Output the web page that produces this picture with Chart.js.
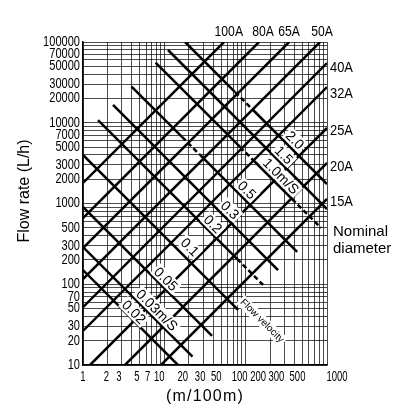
<!DOCTYPE html>
<html>
<head>
<meta charset="utf-8">
<script src="https://cdn.jsdelivr.net/npm/chart.js@4/dist/chart.umd.min.js"></script>
<style>
  body { margin: 0; background: #fff; }
  #wrap { width: 400px; height: 412px; }
</style>
</head>
<body>
<div id="wrap"><canvas id="myChart" width="400" height="412"></canvas></div>
<script>
// Ejes
const xTicks = [1, 2, 3, 5, 7, 10, 20, 30, 50, 100, 200, 300, 500, 1000];
const yTicks = [10, 20, 30, 50, 70, 100, 200, 300, 500, 1000, 2000, 3000, 5000, 7000,
    10000, 20000, 30000, 50000, 70000, 100000];

// Diametro nominal: punto inicial y final [m/100m, L/h]
const diametros = ["100A", "80A", "65A", "50A", "40A", "32A", "25A", "20A", "15A"];
const diamInicio = [[1, 1795], [1, 661], [1, 281], [1, 116], [1, 52], [1, 26.4],
    [1.22, 10], [3.28, 10], [9.1, 10]];
const diamFin = [[54.2, 100000], [146, 100000], [342, 100000], [822, 100000],
    [1000, 54900], [1000, 27700], [1000, 8610], [1000, 3180], [1000, 1137]];

// Velocidad: puntos de cada linea [m/100m, L/h] y tramos punteados
const velocidades = ["2.0", "1.5", "1.0m/S", "0.5", "0.3", "0.2", "0.1", "0.05", "0.03m/S", "0.02"];
const velPuntos = [
    [[18.0, 100000], [74.1, 24000], [120, 14800], [1000, 1744]],
    [[11.1, 79600], [1000, 855]],
    [[7.8, 55700], [85.3, 5010], [127, 3360], [372, 1137], [846, 498]],
    [[3.95, 28100], [16.5, 6670], [27.5, 3990], [429, 251]],
    [[2.34, 16600], [250, 150]],
    [[1.53, 10800], [78.4, 206], [164, 98]],
    [[1, 3990], [80.7, 48]],
    [[1, 905], [38.6, 22.9]],
    [[1, 289], [22.2, 12.7]],
    [[1, 150], [14.7, 10]],
];
const velPunteado = [[1], [], [1, 3], [1], [], [1], [], [], [], []];
const velEtiqueta = [[405, 6110], [297, 3990], [272, 2190], [104, 1470], [64.3, 832],
    [39.7, 557], [20.7, 289], [10.5, 116], [8.13, 48], [4.24, 45.3]];

// Etiquetas de diametro
const diamArriba = ["100A", "80A", "65A", "50A"];
const diamArribaX = [62, 164, 342, 870];
const diamDerecha = ["40A", "32A", "25A", "20A", "15A"];
const diamDerechaY = [47600, 22700, 7900, 2830, 1045];

// corrimiento de las etiquetas del eje x (px)
const xTickShift = [0, -1, -3, -3, -4, -5, -6, -3, -5, -6, -12, -8, -5, 10];

const fuente = "'Liberation Sans', Arial, sans-serif";

// lineas de la grilla: 1..9 por decada
function grilla(min, max) {
    const valores = [];
    for (let d = min; d < max; d *= 10) {
        for (let k = 1; k <= 9; k++) valores.push(k * d);
    }
    valores.push(max);
    return valores;
}

// texto angosto
function textoAngosto(ctx, txt, px, py, escala) {
    ctx.save();
    ctx.translate(px, py);
    ctx.scale(escala, 1);
    ctx.fillText(txt, 0, 0);
    ctx.restore();
}

const datasets = [];
diametros.forEach((nombre, i) => {
    datasets.push({
        label: nombre,
        data: [
            { x: diamInicio[i][0], y: diamInicio[i][1] },
            { x: diamFin[i][0], y: diamFin[i][1] },
        ],
        borderColor: "#000",
        borderWidth: 2.5,
    });
});
velocidades.forEach((nombre, i) => {
    datasets.push({
        label: nombre,
        data: velPuntos[i].map((p) => ({ x: p[0], y: p[1] })),
        borderColor: "#000",
        borderWidth: 2.5,
        segment: {
            borderDash: (c) => (velPunteado[i].includes(c.p0DataIndex) ? [5, 3] : undefined),
        },
    });
});

// Textos
const textosPlugin = {
    id: "textos",
    afterDatasetsDraw(chart) {
        const { ctx, chartArea } = chart;
        const x = chart.scales.x;
        const y = chart.scales.y;
        ctx.save();
        ctx.fillStyle = "#000";

        // etiquetas de los ejes
        ctx.font = "14px " + fuente;
        ctx.textAlign = "center";
        ctx.textBaseline = "middle";
        xTicks.forEach((v, i) => {
            textoAngosto(ctx, String(v), x.getPixelForValue(v) + xTickShift[i], chartArea.bottom + 12, 0.68);
        });
        ctx.textAlign = "right";
        yTicks.forEach((v) => {
            textoAngosto(ctx, String(v), chartArea.left - 3, y.getPixelForValue(v), 0.79);
        });

        // etiquetas de velocidad
        velocidades.forEach((txt, i) => {
            const px = x.getPixelForValue(velEtiqueta[i][0]);
            const py = y.getPixelForValue(velEtiqueta[i][1]);
            ctx.save();
            ctx.translate(px, py);
            ctx.rotate(Math.PI / 4);
            ctx.font = "14px " + fuente;
            const w = ctx.measureText(txt).width;
            ctx.fillStyle = "#fff";
            ctx.fillRect(-w / 2 - 2, -7, w + 4, 14);
            ctx.fillStyle = "#000";
            ctx.textAlign = "center";
            ctx.textBaseline = "middle";
            ctx.fillText(txt, 0, 1);
            ctx.restore();
        });

        // Flow velocity
        ctx.save();
        ctx.translate(x.getPixelForValue(159), y.getPixelForValue(35.1));
        ctx.rotate(Math.PI / 4);
        ctx.font = "10px " + fuente;
        ctx.fillStyle = "#fff";
        const wf = ctx.measureText("Flow velocity").width;
        ctx.fillRect(-wf / 2 - 2, -6, wf + 4, 12);
        ctx.fillStyle = "#000";
        ctx.textAlign = "center";
        ctx.textBaseline = "middle";
        ctx.fillText("Flow velocity", 0, 0);
        ctx.restore();

        // diametros
        ctx.font = "14px " + fuente;
        ctx.textAlign = "center";
        ctx.textBaseline = "alphabetic";
        diamArriba.forEach((txt, i) => {
            textoAngosto(ctx, txt, x.getPixelForValue(diamArribaX[i]), chartArea.top - 6, 0.87);
        });
        ctx.textAlign = "left";
        ctx.textBaseline = "middle";
        diamDerecha.forEach((txt, i) => {
            textoAngosto(ctx, txt, chartArea.right + 3, y.getPixelForValue(diamDerechaY[i]), 0.92);
        });
        ctx.font = "15px " + fuente;
        ctx.fillText("Nominal", chartArea.right + 6, 232);
        ctx.fillText("diameter", chartArea.right + 6, 249);

        // titulos de ejes
        ctx.font = "16px " + fuente;
        ctx.textAlign = "center";
        ctx.save();
        ctx.letterSpacing = "1.2px";
        ctx.fillText("(m/100m)", 205, 397);
        ctx.restore();
        ctx.save();
        ctx.translate(25, 191);
        ctx.rotate(-Math.PI / 2);
        ctx.fillText("Flow rate (L/h)", 0, 0);
        ctx.restore();

        ctx.restore();
    },
};

const ctx = document.getElementById("myChart");
new Chart(ctx, {
    type: "scatter",
    data: { datasets: datasets },
    options: {
        responsive: false,
        animation: false,
        showLine: true,
        elements: { point: { radius: 0 }, line: { tension: 0 } },
        layout: { padding: { top: 42, right: 73, left: 0, bottom: 0 } },
        plugins: {
            legend: { display: false },
            tooltip: { enabled: false },
        },
        scales: {
            x: {
                type: "logarithmic",
                min: 1,
                max: 1000,
                afterFit: (scale) => { scale.height = 47; },
                afterBuildTicks: (scale) => {
                    scale.ticks = grilla(1, 1000).map((v) => ({ value: v }));
                },
                grid: { color: "rgba(0,0,0,0.7)", lineWidth: 1, drawTicks: false },
                border: { color: "#000", width: 1.5 },
                ticks: { autoSkip: false, maxRotation: 0, callback: () => "" },
            },
            y: {
                type: "logarithmic",
                min: 10,
                max: 100000,
                afterFit: (scale) => { scale.width = 83; },
                afterBuildTicks: (scale) => {
                    scale.ticks = grilla(10, 100000).map((v) => ({ value: v }));
                },
                grid: { color: "rgba(0,0,0,0.7)", lineWidth: 1, drawTicks: false },
                border: { color: "#000", width: 1.5 },
                ticks: { autoSkip: false, callback: () => "" },
            },
        },
    },
    plugins: [textosPlugin],
});
</script>
</body>
</html>
